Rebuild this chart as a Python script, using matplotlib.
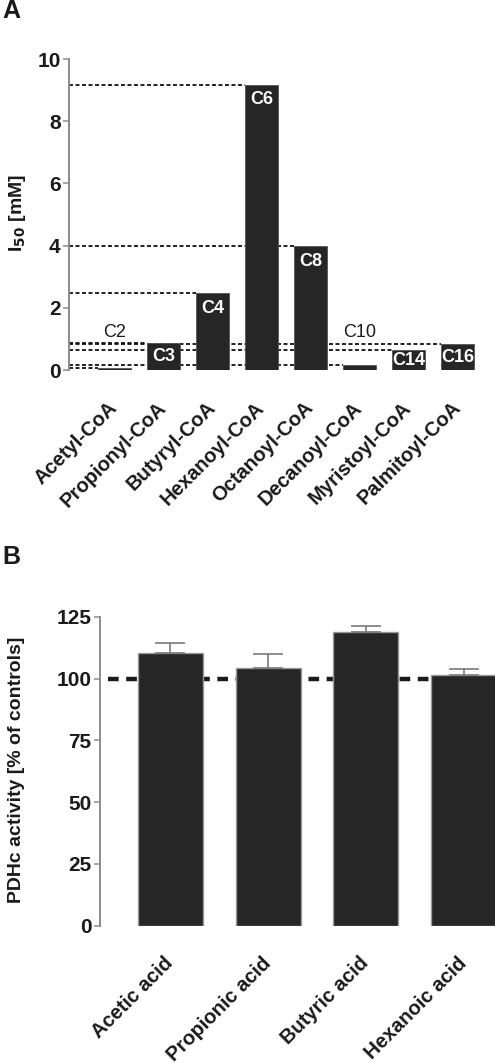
import matplotlib
matplotlib.use("Agg")
import matplotlib.pyplot as plt

plt.rcParams['font.family'] = ['Liberation Sans', 'DejaVu Sans']

# Panel A data
coa_names = ["Acetyl-CoA", "Propionyl-CoA", "Butyryl-CoA", "Hexanoyl-CoA",
             "Octanoyl-CoA", "Decanoyl-CoA", "Myristoyl-CoA", "Palmitoyl-CoA"]
coa_short = ["C2", "C3", "C4", "C6", "C8", "C10", "C14", "C16"]
i50_values = [0.08, 0.87, 2.47, 9.18, 4.0, 0.17, 0.63, 0.83]

# Panel B data
acid_names = ["Acetic acid", "Propionic acid", "Butyric acid", "Hexanoic acid"]
pdhc_values = [110.2, 104.2, 118.9, 101.3]
pdhc_err = [4.0, 5.6, 2.5, 2.4]
control_level = 100

W, H = 495, 1063
fig = plt.figure(figsize=(W / 100, H / 100), dpi=100)

bar_color = '#262626'
spine_color = '#8c8c8c'

# ---------- Panel A ----------
axA = fig.add_axes([69 / W, 1 - 370 / H, 413 / W, (370 - 59) / H])
xA = list(range(len(coa_names)))
wA = 0.67
# dashed guide lines from axis to each bar (behind bars)
for xi, v in zip(xA, i50_values):
    axA.plot([-0.93, xi - wA / 2], [v, v], color='#111111', lw=1.3,
             dashes=(2.2, 1.4), zorder=1, clip_on=False)
axA.bar(xA, i50_values, width=wA, color=bar_color, edgecolor='#555555',
        linewidth=0.6, zorder=2)
for xi, v, lab in zip(xA, i50_values, coa_short):
    if v < 0.3:
        axA.text(xi, 0.93, lab, ha='center', va='bottom', fontsize=13,
                 color='#1a1a1a', zorder=3)
    elif v < 1.5:
        axA.text(xi, v / 2, lab, ha='center', va='center', fontsize=13,
                 fontweight='bold', color='white', zorder=3)
    else:
        axA.annotate(lab, (xi, v), xytext=(0, -5), textcoords='offset points',
                     ha='center', va='top', fontsize=13, fontweight='bold',
                     color='white', zorder=3)
axA.set_xlim(-0.93, 7.5)
axA.set_ylim(0, 10)
axA.set_yticks([0, 2, 4, 6, 8, 10])
axA.set_xticks(xA)
axA.set_xticklabels(coa_names, rotation=45, ha='right', va='center',
                    rotation_mode='anchor', fontsize=14.5, fontweight='bold',
                    color='#1a1a1a')
axA.tick_params(axis='x', length=0, pad=25)
axA.tick_params(axis='y', length=4, width=1.1, color=spine_color, pad=2,
                labelsize=15, labelcolor='#1a1a1a')
for lbl in axA.get_yticklabels():
    lbl.set_fontweight('bold')
for s in ['top', 'right', 'bottom']:
    axA.spines[s].set_visible(False)
axA.spines['left'].set_color(spine_color)
axA.spines['left'].set_linewidth(1.4)
fig.text(18 / W, 1 - 213 / H, r'I$_{\mathbf{50}}$ [mM]', rotation=90,
         ha='center', va='center', fontsize=14, fontweight='bold',
         color='#1a1a1a')
fig.text(2 / W, 1 - 11 / H, 'A', ha='left', va='center', fontsize=18,
         fontweight='bold', color='#1a1a1a')

# ---------- Panel B ----------
axB = fig.add_axes([100 / W, 1 - 925.7 / H, (W - 100) / W, (925.7 - 616.7) / H])
xB = list(range(len(acid_names)))
wB = 0.666
axB.plot([-0.64, 3.0], [control_level, control_level], color='#1a1a1a',
         lw=3.2, dashes=(2.4, 1.7), zorder=1)
axB.bar(xB, pdhc_values, width=wB, color=bar_color, edgecolor='#9a9a9a',
        linewidth=1.0, zorder=2)
axB.errorbar(xB, pdhc_values, yerr=[[0] * len(pdhc_err), pdhc_err], fmt='none',
             ecolor='#7a7a7a', elinewidth=1.2, capsize=10.5, capthick=1.2,
             zorder=3)
axB.set_xlim(-0.72, 3.32)
axB.set_ylim(0, 125)
axB.set_yticks([0, 25, 50, 75, 100, 125])
axB.set_xticks(xB)
axB.set_xticklabels(acid_names, rotation=45, ha='right', va='center',
                    rotation_mode='anchor', fontsize=14.5, fontweight='bold',
                    color='#1a1a1a')
axB.tick_params(axis='x', length=0, pad=25)
axB.tick_params(axis='y', length=4, width=1.1, color=spine_color, pad=2,
                labelsize=15, labelcolor='#1a1a1a')
for lbl in axB.get_yticklabels():
    lbl.set_fontweight('bold')
for s in ['top', 'right', 'bottom']:
    axB.spines[s].set_visible(False)
axB.spines['left'].set_color(spine_color)
axB.spines['left'].set_linewidth(1.4)
fig.text(17 / W, 1 - 770 / H, 'PDHc activity [% of controls]', rotation=90,
         ha='center', va='center', fontsize=14, fontweight='bold',
         color='#1a1a1a')
fig.text(2 / W, 1 - 557 / H, 'B', ha='left', va='center', fontsize=18,
         fontweight='bold', color='#1a1a1a')

fig.savefig('out.png', dpi=100)
